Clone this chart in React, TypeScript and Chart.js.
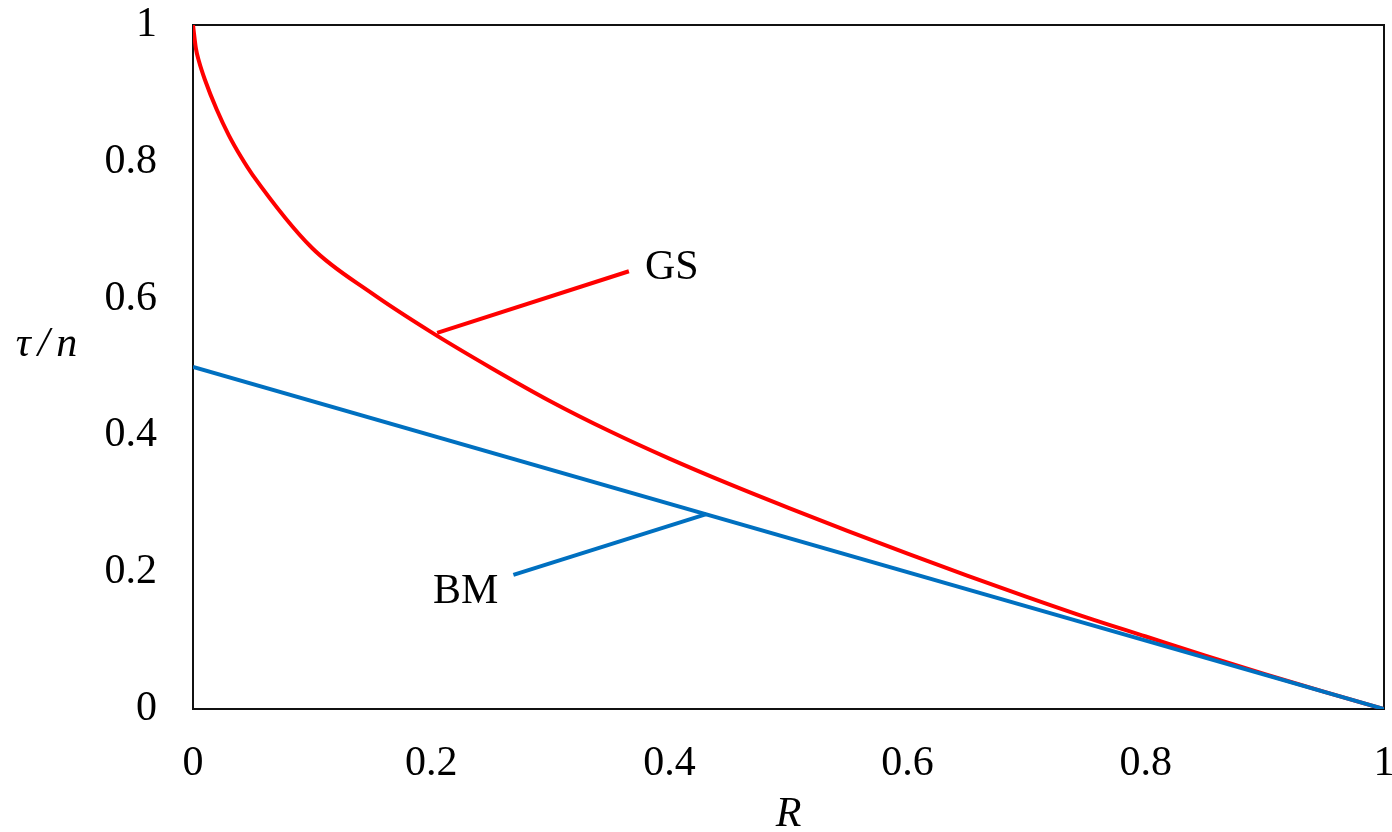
import React, { useEffect, useRef } from "react";
import { Chart, registerables } from "chart.js";

Chart.register(...registerables);

// GS curve
const gsR = [0, 0.0025, 0.005, 0.01, 0.02, 0.03, 0.04, 0.05, 0.1, 0.15, 0.2, 0.25, 0.3, 0.35, 0.4, 0.45, 0.5, 0.55, 0.6, 0.65, 0.7, 0.75, 0.8, 0.85, 0.9, 0.95, 1];
const gsV = [1.0, 0.965, 0.947, 0.92, 0.876, 0.839, 0.808, 0.781, 0.674, 0.608, 0.551, 0.499, 0.450, 0.406, 0.366, 0.329, 0.294, 0.260, 0.227, 0.195, 0.164, 0.134, 0.106, 0.078, 0.051, 0.025, 0];

// BM line
const bmR = [0, 1];
const bmV = [0.5, 0];

// Leader lines for labels
const gsLeaderR = [0.205, 0.366];
const gsLeaderV = [0.55, 0.64];
const bmLeaderR = [0.269, 0.431];
const bmLeaderV = [0.196, 0.285];

// Labels
const labelTexts = ["GS", "BM"];
const labelR = [0.402, 0.229];
const labelV = [0.645, 0.171];

const xTitle = "R";
const yTitle = "τ/n";

const RED = "#FF0000";
const BLUE = "#0070C0";
const FONT = '"Liberation Serif", "Times New Roman", serif';

const toPts = (xs: number[], ys: number[]) => xs.map((x, i) => ({ x, y: ys[i] }));

const fmt = (v: any) => {
  const n = Number(Number(v).toFixed(1));
  return String(n);
};

const decorPlugin = {
  id: "decor",
  beforeDatasetsDraw(chart: any) {
    const { ctx, chartArea } = chart;
    ctx.save();
    ctx.strokeStyle = "#111";
    ctx.lineWidth = 2;
    ctx.strokeRect(chartArea.left, chartArea.top, chartArea.right - chartArea.left, chartArea.bottom - chartArea.top);
    ctx.restore();
  },
  afterDraw(chart: any) {
    const { ctx, chartArea, scales } = chart;
    ctx.save();
    ctx.fillStyle = "#000";
    ctx.textAlign = "center";
    ctx.textBaseline = "middle";
    ctx.font = `42px ${FONT}`;
    labelTexts.forEach((t, i) => {
      ctx.fillText(t, scales.x.getPixelForValue(labelR[i]), scales.y.getPixelForValue(labelV[i]));
    });
    ctx.font = `italic 42px ${FONT}`;
    ctx.fillText(xTitle, (chartArea.left + chartArea.right) / 2, chartArea.bottom + 106);
    (ctx as any).letterSpacing = "7px";
    ctx.fillText(yTitle, 50, (chartArea.top + chartArea.bottom) / 2 - 22);
    ctx.restore();
  },
};

export default function App() {
  const ref = useRef<HTMLCanvasElement | null>(null);
  useEffect(() => {
    if (!ref.current) return;
    const chart = new Chart(ref.current, {
      type: "scatter",
      data: {
        datasets: [
          { data: toPts(bmR, bmV), borderColor: BLUE, borderWidth: 4, showLine: true, pointRadius: 0, tension: 0 },
          { data: toPts(gsR, gsV), borderColor: RED, borderWidth: 4, showLine: true, pointRadius: 0, cubicInterpolationMode: "monotone" },
          { data: toPts(gsLeaderR, gsLeaderV), borderColor: RED, borderWidth: 4, showLine: true, pointRadius: 0 },
          { data: toPts(bmLeaderR, bmLeaderV), borderColor: BLUE, borderWidth: 4, showLine: true, pointRadius: 0 },
        ],
      },
      options: {
        responsive: false,
        animation: false,
        layout: { padding: { top: 25, right: 8, left: 0, bottom: 0 } },
        plugins: { legend: { display: false }, tooltip: { enabled: false } },
        scales: {
          x: {
            type: "linear",
            min: 0,
            max: 1,
            grid: { display: false, drawTicks: false },
            border: { display: false },
            ticks: { stepSize: 0.2, color: "#000", font: { family: FONT, size: 42 }, padding: 30, callback: fmt, maxRotation: 0 },
            afterFit: (s: any) => { s.height = 123; s.paddingLeft = 0; s.paddingRight = 0; },
          },
          y: {
            type: "linear",
            min: 0,
            max: 1,
            grid: { display: false, drawTicks: false },
            border: { display: false },
            ticks: { stepSize: 0.2, color: "#000", font: { family: FONT, size: 42 }, padding: 36, callback: fmt },
            afterFit: (s: any) => { s.width = 193; s.paddingTop = 0; s.paddingBottom = 0; },
          },
        },
      },
      plugins: [decorPlugin],
    });
    return () => chart.destroy();
  }, []);
  return (
    <div style={{ position: "fixed", left: 0, top: 0, width: 1392, height: 832, background: "#fff" }}>
      <canvas ref={ref} width={1392} height={832} />
    </div>
  );
}
